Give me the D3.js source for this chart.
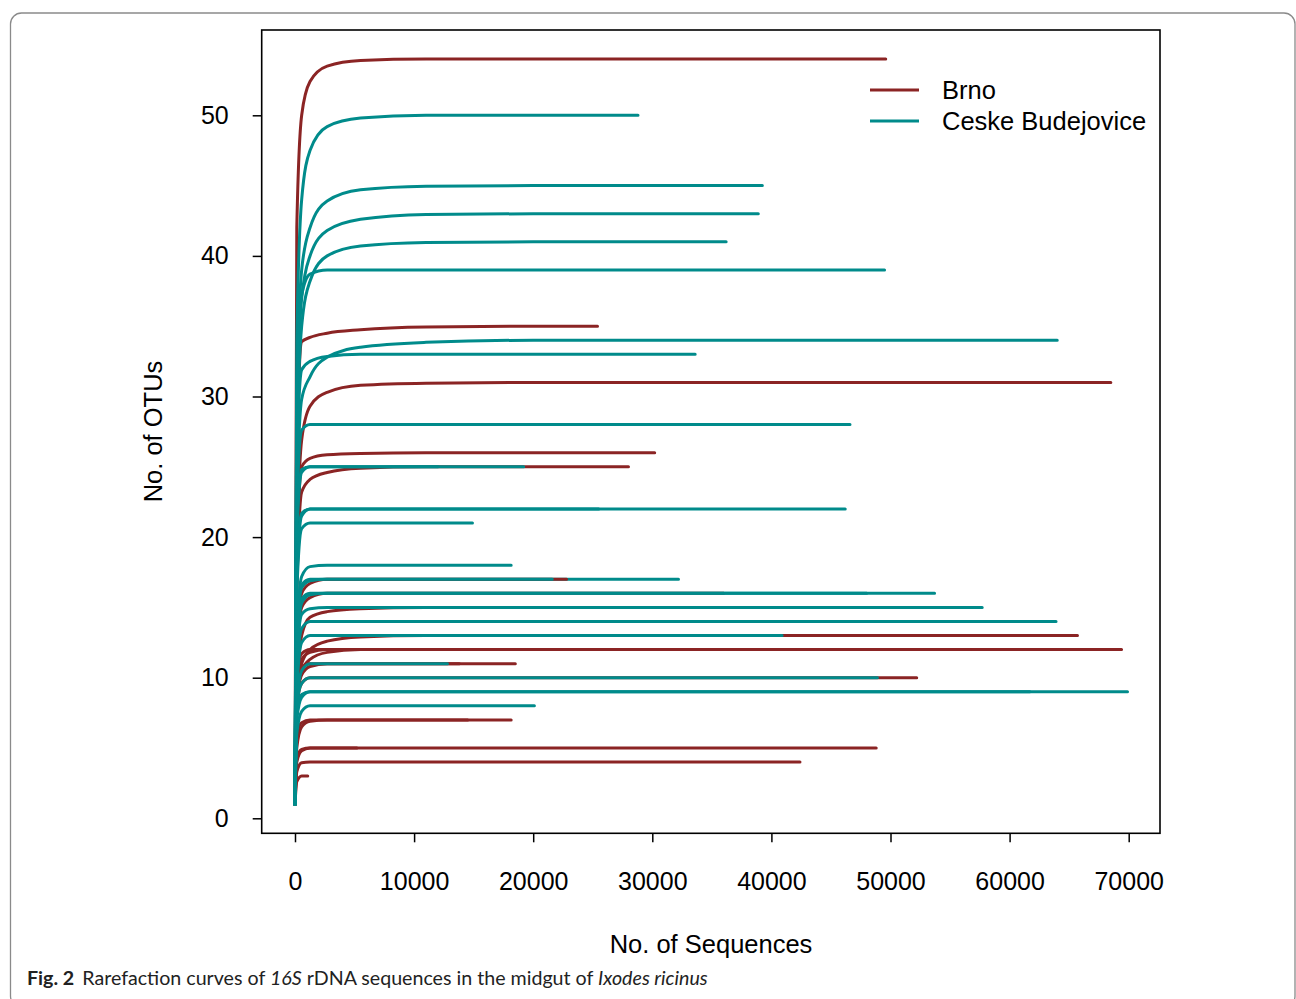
<!DOCTYPE html>
<html>
<head>
<meta charset="utf-8">
<script src="https://cdn.jsdelivr.net/npm/d3@7"></script>
<style>
  body { margin: 0; background: #fff; }
  svg { display: block; }
</style>
</head>
<body>
<svg id="drawing_region"></svg>
<script>
const depthGrid = [0, 150, 560, 1260, 2700, 5500, 11000, 20000];

// samples in drawing order
const sampleSite = [
    "Brno", "Brno", "Brno", "Brno", "Brno",
    "Ceske Budejovice",
    "Brno", "Brno", "Brno", "Brno", "Brno", "Brno", "Brno", "Brno", "Brno", "Brno",
    "Brno", "Brno", "Brno", "Brno", "Brno", "Brno",
    "Ceske Budejovice", "Ceske Budejovice", "Ceske Budejovice", "Ceske Budejovice", "Ceske Budejovice",
    "Ceske Budejovice", "Ceske Budejovice", "Ceske Budejovice", "Ceske Budejovice", "Ceske Budejovice",
    "Ceske Budejovice", "Ceske Budejovice", "Ceske Budejovice", "Ceske Budejovice", "Ceske Budejovice",
    "Ceske Budejovice", "Ceske Budejovice", "Ceske Budejovice", "Ceske Budejovice", "Ceske Budejovice",
    "Ceske Budejovice", "Ceske Budejovice", "Ceske Budejovice", "Ceske Budejovice", "Ceske Budejovice"
];

// total number of sequences in each sample (end of curve)
const sampleDepth = [
    49600, 25400, 68500, 30200, 28000,
    32200,
    22800, 36000, 40000, 65700, 69400, 56700, 42000, 18500, 13800, 52200,
    18150, 14500, 48800, 5200, 42400, 1070,
    28800, 39240, 38900, 36200, 49500,
    64000, 33600, 46600, 19200, 12000,
    46200, 25500, 14900, 18150, 21600,
    53700, 48000, 57700, 63900, 40900,
    12800, 48900, 69900, 61700, 20100, 5700
];

// observed OTUs at each depth of depthGrid (last value = final richness)
const sampleOtus = [
    [1, 42, 50, 52.4, 53.5, 53.9, 54, 54],
    [1, 25, 33.9, 34.2, 34.5, 34.75, 34.95, 35],
    [1, 18, 26.9, 29.3, 30.3, 30.8, 30.95, 31],
    [1, 18, 25, 25.6, 25.85, 25.95, 26, 26],
    [1, 16, 23.2, 24.1, 24.6, 24.9, 25, 25],
    [1, 13, 16.6, 17, 17, 17, 17, 17],
    [1, 12, 16, 16.7, 17, 17, 17, 17],
    [1, 11, 15, 15.7, 16, 16, 16, 16],
    [1, 9, 13, 14.3, 14.7, 14.9, 15, 15],
    [1, 8, 11, 12, 12.6, 12.9, 13, 13],
    [1, 8, 10.5, 11.3, 11.8, 12, 12, 12],
    [1, 9, 11.3, 11.8, 12, 12, 12, 12],
    [1, 10, 11.7, 12, 12, 12, 12, 12],
    [1, 8, 10.2, 10.8, 11, 11, 11, 11],
    [1, 9, 10.7, 11, 11, 11, 11, 11],
    [1, 8, 9.6, 10, 10, 10, 10, 10],
    [1, 5, 6.5, 6.9, 7, 7, 7, 7],
    [1, 6, 6.8, 7, 7, 7, 7, 7],
    [1, 4, 4.8, 5, 5, 5, 5, 5],
    [1, 4.3, 4.9, 5, 5, 5, 5, 5],
    [1, 3.3, 3.95, 4, 4, 4, 4, 4],
    [1, 2.6, 3, 3, 3, 3, 3, 3],
    [1, 34, 44, 47.5, 49.2, 49.8, 50, 50],
    [1, 30, 39, 42, 43.9, 44.7, 44.95, 45],
    [1, 28, 37, 40, 41.8, 42.6, 42.95, 43],
    [1, 26, 35, 38.2, 40, 40.7, 40.95, 41],
    [1, 30, 37.2, 38.7, 39, 39, 39, 39],
    [1, 22, 29.8, 31.4, 32.8, 33.5, 33.85, 34],
    [1, 25, 31.9, 32.5, 32.85, 33, 33, 33],
    [1, 22, 27.6, 28, 28, 28, 28, 28],
    [1, 20, 24.6, 25, 25, 25, 25, 25],
    [1, 21, 24.8, 25, 25, 25, 25, 25],
    [1, 17, 21.5, 22, 22, 22, 22, 22],
    [1, 18, 21.7, 22, 22, 22, 22, 22],
    [1, 16, 20.6, 21, 21, 21, 21, 21],
    [1, 13, 17.2, 17.9, 18, 18, 18, 18],
    [1, 12, 16.4, 16.9, 17, 17, 17, 17],
    [1, 11, 15.3, 15.9, 16, 16, 16, 16],
    [1, 12, 15.6, 16, 16, 16, 16, 16],
    [1, 11, 14.5, 14.9, 15, 15, 15, 15],
    [1, 10, 13.5, 14, 14, 14, 14, 14],
    [1, 9, 12.5, 13, 13, 13, 13, 13],
    [1, 8, 10.5, 11, 11, 11, 11, 11],
    [1, 8, 9.6, 10, 10, 10, 10, 10],
    [1, 7, 8.6, 9, 9, 9, 9, 9],
    [1, 7.5, 8.8, 9, 9, 9, 9, 9],
    [1, 6, 7.6, 8, 8, 8, 8, 8],
    [1, 5.5, 6.8, 7, 7, 7, 7, 7]
];

const xTicks = [0, 10000, 20000, 30000, 40000, 50000, 60000, 70000];
const yTicks = [0, 10, 20, 30, 40, 50];
const siteNames = ["Brno", "Ceske Budejovice"];
const siteColors = ["#8b2424", "#008b8b"];

const W = 1296, H = 999;
const svg = d3.select('#drawing_region')
    .attr('width', W)
    .attr('height', H);

// figure frame
svg.append('rect')
    .attr('x', 10.5).attr('y', 13)
    .attr('width', 1284.5).attr('height', 994)
    .attr('rx', 11)
    .attr('fill', 'none')
    .attr('stroke', '#8a8a8a')
    .attr('stroke-width', 1.3);

const xscale = d3.scaleLinear().domain([0, 70000]).range([295, 1128.7]);
const yscale = d3.scaleLinear().domain([0, 50]).range([818.3, 115.3]);
const color = d3.scaleOrdinal().domain(siteNames).range(siteColors);

const line = d3.line()
    .x(d => xscale(d[0]))
    .y(d => yscale(d[1]))
    .curve(d3.curveMonotoneX);

// build points for each curve
const curves = sampleSite.map((site, i) => {
    const n = sampleDepth[i];
    const pts = [];
    depthGrid.forEach((g, j) => { if (g < n) pts.push([g, sampleOtus[i][j]]); });
    pts.push([n, sampleOtus[i][depthGrid.length - 1]]);
    return { site: site, pts: pts };
});

const chart = svg.append('g');

chart.selectAll('path.curve')
    .data(curves)
    .enter()
    .append('path')
    .attr('class', 'curve')
    .attr('d', d => line(d.pts))
    .attr('fill', 'none')
    .attr('stroke', d => color(d.site))
    .attr('stroke-width', 3)
    .attr('stroke-linecap', 'round');

// axes
const xaxis = d3.axisBottom(xscale)
    .tickValues(xTicks)
    .tickFormat(d3.format('d'))
    .tickSize(9)
    .tickPadding(30);

const yaxis = d3.axisLeft(yscale)
    .tickValues(yTicks)
    .tickFormat(d3.format('d'))
    .tickSize(9)
    .tickPadding(24);

const xg = svg.append('g')
    .attr('transform', 'translate(0, 833.3)')
    .call(xaxis);
const yg = svg.append('g')
    .attr('transform', 'translate(261.7, 0)')
    .call(yaxis);

[xg, yg].forEach(g => {
    g.select('.domain').remove();
    g.selectAll('line').attr('stroke', '#000').attr('stroke-width', 1.5);
    g.selectAll('text')
        .attr('fill', '#000')
        .attr('font-family', 'Liberation Sans, Arial, sans-serif')
        .attr('font-size', 25);
});

// plot box
svg.append('rect')
    .attr('x', 261.7).attr('y', 30)
    .attr('width', 898.3).attr('height', 803.3)
    .attr('fill', 'none')
    .attr('stroke', '#000')
    .attr('stroke-width', 1.6);

// axis titles
svg.append('text')
    .attr('x', 711).attr('y', 953)
    .attr('text-anchor', 'middle')
    .attr('font-family', 'Liberation Sans, Arial, sans-serif')
    .attr('font-size', 25.5)
    .text('No. of Sequences');

svg.append('text')
    .attr('transform', 'translate(162, 431.5) rotate(-90)')
    .attr('text-anchor', 'middle')
    .attr('font-family', 'Liberation Sans, Arial, sans-serif')
    .attr('font-size', 25.5)
    .text('No. of OTUs');

// legend
const legend = svg.append('g');
siteNames.forEach((s, i) => {
    const ly = 90 + i * 31;
    legend.append('line')
        .attr('x1', 870).attr('x2', 919)
        .attr('y1', ly).attr('y2', ly)
        .attr('stroke', color(s))
        .attr('stroke-width', 3);
    legend.append('text')
        .attr('x', 942).attr('y', ly + 9)
        .attr('font-family', 'Liberation Sans, Arial, sans-serif')
        .attr('font-size', 25.5)
        .text(s);
});

// caption
const cap = svg.append('text')
    .attr('x', 27).attr('y', 985)
    .attr('font-family', 'Lato, Open Sans, sans-serif')
    .attr('font-size', 19)
    .attr('fill', '#222');
cap.append('tspan').attr('font-weight', 'bold').text('Fig. 2');
cap.append('tspan').attr('dx', 8).text('Rarefaction curves of ');
cap.append('tspan').attr('font-style', 'italic').text('16S');
cap.append('tspan').text(' rDNA sequences in the midgut of ');
cap.append('tspan').attr('font-style', 'italic').text('Ixodes ricinus');

const capW = cap.node().getComputedTextLength();
cap.attr('font-size', 19 * 673 / capW);
</script>
</body>
</html>
